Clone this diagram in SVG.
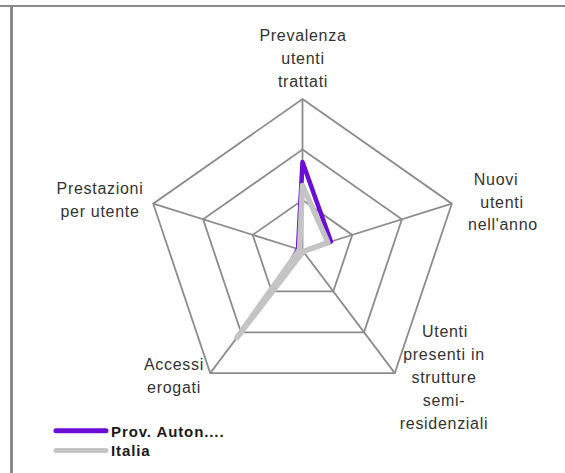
<svg xmlns="http://www.w3.org/2000/svg" width="565" height="473" viewBox="0 0 565 473">
<style>
.frame{stroke:#8a8a8a;fill:none}
.grid{stroke:#8c8c8c;stroke-width:1.8;fill:none}
.lbl{font-family:"Liberation Sans",Arial,sans-serif;font-size:16px;letter-spacing:0.7px;fill:#333;text-anchor:middle}
.leg{font-family:"Liberation Sans",Arial,sans-serif;font-size:15px;font-weight:bold;letter-spacing:0.9px;fill:#1a1a1a}
.prov{stroke:#6a0dd6;stroke-width:4.5;fill:none;stroke-linejoin:round}
.ita{stroke:#c4c4c4;stroke-width:5.5;fill:none;stroke-linejoin:round}
</style>
<rect width="565" height="473" fill="#ffffff"/>
<g id="frame">
<line class="frame" x1="0" y1="6" x2="565" y2="6" stroke-width="2"/>
<line class="frame" x1="11.5" y1="6" x2="11.5" y2="473" stroke-width="3"/>
</g>
<g id="grid">
<polygon class="grid" points="302.5,99 451.8,203.7 394.8,373.1 210.2,373.1 153.2,203.7"/>
<polygon class="grid" points="302.5,149.5 401.9,219.3 364.0,332.4 241.0,332.4 203.1,219.3"/>
<polygon class="grid" points="302.5,200 352.3,234.9 333.3,291.4 271.7,291.4 252.7,234.9"/>
<path class="grid" d="M302.5,250.5V99M302.5,250.5L451.8,203.7M302.5,250.5L394.8,373.1M302.5,250.5L210.2,373.1M302.5,250.5L153.2,203.7"/>
</g>
<g id="series">
<polygon class="prov" points="302.5,161.9 330.9,241.6 303.2,251.5 284,274.7 298,249"/>
<polygon class="ita" points="302.5,185.4 327.9,242.5 303.2,251.5 237,337.5 299.5,249.6"/>
</g>
<g id="label-prevalenza">
<text class="lbl" x="303" y="41">Prevalenza</text>
<text class="lbl" x="303" y="64">utenti</text>
<text class="lbl" x="303" y="87">trattati</text>
</g>
<g id="label-nuovi">
<text class="lbl" x="496" y="185">Nuovi</text>
<text class="lbl" x="502" y="207.5">utenti</text>
<text class="lbl" x="503" y="230">nell'anno</text>
</g>
<g id="label-utenti">
<text class="lbl" x="445" y="336.5">Utenti</text>
<text class="lbl" x="444" y="359.5">presenti in</text>
<text class="lbl" x="444" y="382.5">strutture</text>
<text class="lbl" x="444" y="405.5">semi-</text>
<text class="lbl" x="444" y="428.5">residenziali</text>
</g>
<g id="label-accessi">
<text class="lbl" x="174" y="370">Accessi</text>
<text class="lbl" x="174" y="392.5">erogati</text>
</g>
<g id="label-prestazioni">
<text class="lbl" x="100" y="194">Prestazioni</text>
<text class="lbl" x="100" y="217">per utente</text>
</g>
<g id="legend">
<line x1="56" y1="430.7" x2="106" y2="430.7" stroke="#6a0dd6" stroke-width="5" stroke-linecap="round"/>
<text class="leg" x="111" y="436.5">Prov. Auton....</text>
<line x1="56" y1="450.5" x2="106" y2="450.5" stroke="#c4c4c4" stroke-width="5" stroke-linecap="round"/>
<text class="leg" x="111" y="455.5">Italia</text>
</g>
</svg>
